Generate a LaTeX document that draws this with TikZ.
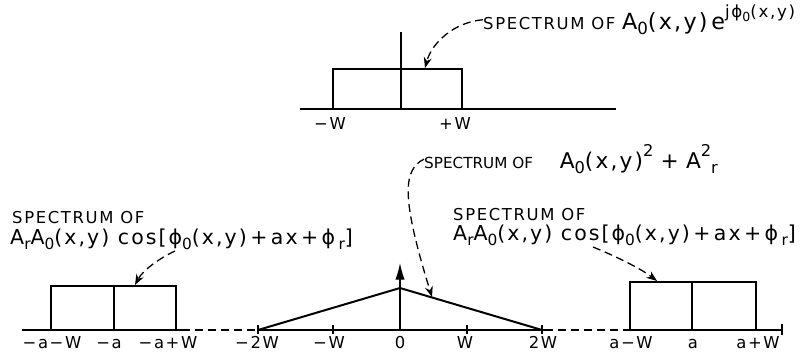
\documentclass[tikz,border=0pt]{standalone}
\usepackage{fontspec}
\usepackage{tikz}
\usetikzlibrary{positioning, arrows.meta, calc}
\newfontfamily\handfont[LetterSpace=10]{DejaVu Sans}
\newcommand{\headsz}{\fontsize{14}{16}\selectfont}
\newcommand{\formsz}{\fontsize{17.5}{20}\selectfont}
\newcommand{\dn}[1]{\raisebox{-0.45ex}{\scalebox{0.75}{#1}}}
\newcommand{\upp}[1]{\raisebox{0.95ex}{\scalebox{0.75}{#1}}}
\newcommand{\phz}{ϕ\dn{0}}

\begin{document}
\begin{tikzpicture}[
        x=0.3mm, y=-0.3mm,
        head/.style  = {inner sep=0pt, anchor=base west, font=\handfont\headsz},
        frm/.style   = {inner sep=0pt, anchor=base west, font=\handfont\formsz},
        tlbl/.style  = {inner sep=0pt, anchor=base, font=\handfont\fontsize{14}{15}\selectfont},
        box/.style   = {line width=1.7pt},
        axis/.style  = {line width=1.3pt},
        gap/.style   = {line width=1.3pt, dash pattern=on 2.4mm off 1.5mm},
        tick/.style  = {line width=1pt},
        arrow/.style = {-{Stealth[length=3.2mm, width=2.4mm]}, line width=1.1pt, dash pattern=on 2.4mm off 1.4mm},
    ]
    \useasboundingbox (0,0) rectangle (800,352);

    %---- top panel ----
    \draw[axis] (300,109) -- (616,109);
    \draw[tick] (401,32) -- (401,109);
    \draw[box] (333,109) |- (462,69) -- (462,109);
    \node[tlbl] (tmW) at (330,129) {−W};
    \node[tlbl] (tpW) at (455,129) {+W};
    \node[frm, font=\handfont\fontsize{19}{21}\selectfont] (topLbl) at (483,29)
        {{\fontsize{14}{16}\selectfont SPECTRUM OF }A\dn{0}(x,y)\,e\upp{j\phz(x,y)}};
    \coordinate (topHit) at (425,68);
    \draw[arrow] (topLbl.west) .. controls (455,22) and (432,42) .. (topHit);

    %---- bottom panel: axis ----
    \draw[axis] (22,330) -- (182,330);
    \draw[gap] (182,330) -- (258,330);
    \draw[axis] (258,330) -- (545,330);
    \draw[gap] (545,330) -- (628,330);
    \draw[axis] (628,330) -- (782,330);
    \draw[tick] (782,324) -- (782,335);

    %---- left sideband ----
    \draw[box] (51,330) |- (176,286) -- (176,330);
    \draw[box] (114,286) -- (114,330);
    \node[tlbl] (lmw) at (52,348) {−a−W};
    \node[tlbl] (lma) at (109,348) {−a};
    \node[tlbl] (lpw) at (168,348) {−a+W};
    \node[head] (lHead) at (12,223) {SPECTRUM OF};
    \node[frm] (lLbl) at ($(lHead.base west)+(-2,21)$)
        {A\dn{r}A\dn{0}(x,y) cos[\phz(x,y)\,+\,ax\,+\,ϕ\,\dn{r}]};
    \coordinate (lSrc) at (175,251);
    \coordinate (lHit) at (135,285);
    \draw[arrow] (lSrc) .. controls (160,258) and (143,270) .. (lHit);

    %---- centre term ----
    \draw[box] (258,330) -- (400,288) -- (542,330);
    \draw[tick] (258,325) -- (258,334);
    \draw[tick] (333,325) -- (333,334);
    \draw[tick] (467,325) -- (467,334);
    \draw[tick] (542,325) -- (542,334);
    \draw[-{Latex[length=5mm, width=2.8mm]}, line width=1.1pt] (400,330) -- (400,263);
    \node[tlbl] (c2w) at (257,348) {−2W};
    \node[tlbl] (cmw) at (329,348) {−W};
    \node[tlbl] (czero) at (400,348) {0};
    \node[tlbl] (cpw) at (465,348) {W};
    \node[tlbl] (cp2w) at (543,348) {2W};
    \node[head, font=\handfont\addfontfeatures{LetterSpace=0}\fontsize{13}{15}\selectfont] (midLbl) at (424,168)
        {SPECTRUM OF\hspace{8mm}{\addfontfeatures{LetterSpace=10}\fontsize{18.5}{20}\selectfont A\dn{0}(x,y)\upp{2}\,\,+\,\,A\upp{2}\dn{r}}};
    \coordinate (midHit) at (432,297);
    \draw[arrow] (midLbl.west) .. controls (402,170) and (402,200) .. (midHit);

    %---- right sideband ----
    \draw[box] (630,330) |- (756,282) -- (756,330);
    \draw[box] (692,282) -- (692,330);
    \node[tlbl] (rmw) at (631,348) {a−W};
    \node[tlbl] (ra) at (693,348) {a};
    \node[tlbl] (rpw) at (758,348) {a+W};
    \node[head] (rHead) at (453,220) {SPECTRUM OF};
    \node[frm] (rLbl) at ($(rHead.base west)+(0,20)$)
        {A\dn{r}A\dn{0}(x,y) cos[\phz(x,y)\,+\,ax\,+\,ϕ\,\dn{r}]};
    \coordinate (rSrc) at (593,247);
    \coordinate (rHit) at (657,281);
    \draw[arrow] (rSrc) .. controls (615,256) and (640,268) .. (rHit);
\end{tikzpicture}
\end{document}
